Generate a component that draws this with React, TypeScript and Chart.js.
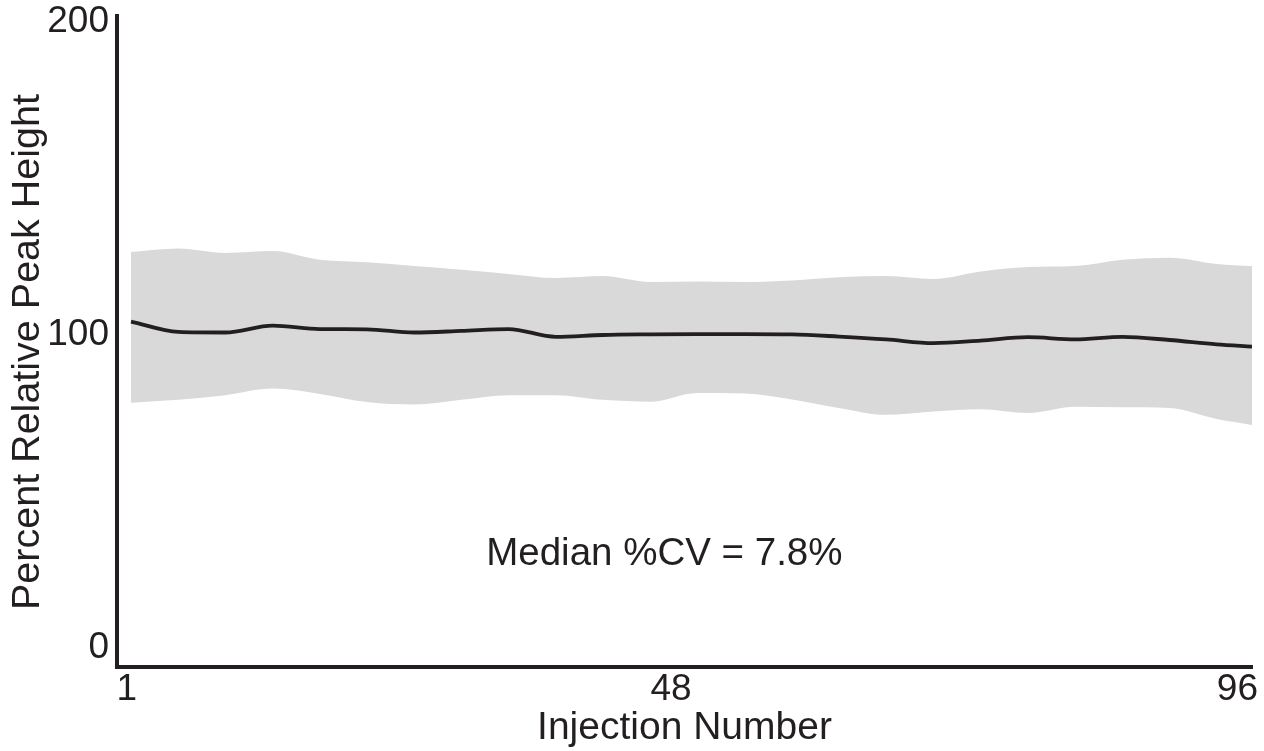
import React, { useEffect, useRef } from "react";
import { Chart, registerables } from "chart.js";

Chart.register(...registerables);

// ---- data ----
const injections = [1, 5, 9, 13, 17, 21, 25, 29, 33, 37, 41, 45, 49, 53, 57, 61, 65, 69, 73, 77, 81, 85, 89, 93, 96];
const meanValues = [104.2, 100.9, 100.7, 102.9, 101.8, 101.7, 100.7, 101.2, 101.8, 99.3, 99.9, 100.1, 100.2, 100.2, 100.1, 99.4, 98.5, 97.3, 98.1, 99.2, 98.5, 99.3, 98.3, 96.9, 96.2];
const upperValues = [126.4, 127.5, 126.1, 126.7, 123.9, 123.1, 121.9, 120.7, 119.4, 118.1, 118.7, 116.8, 117.0, 116.8, 117.3, 118.3, 118.7, 117.8, 120.2, 121.6, 121.9, 123.9, 124.6, 122.6, 121.9];
const lowerValues = [78.3, 79.2, 80.7, 82.8, 81.1, 78.5, 77.7, 79.2, 80.7, 80.7, 79.2, 78.6, 81.4, 81.2, 79.3, 76.6, 74.4, 75.5, 76.2, 75.0, 77.0, 76.8, 76.6, 73.1, 71.2];
const xTicks = [1, 48, 96];
const yTicks = [0, 100, 200];

const X_TITLE = "Injection Number";
const Y_TITLE = "Percent Relative Peak Height";
const ANNOTATION = "Median %CV = 7.8%";
const ANNOT_X = 46.2;
const ANNOT_Y = 29.7;

const FONT = "'Liberation Sans', Arial, sans-serif";
const INK = "#231f20";
const BAND = "#d9d9d9";

const textPlugin = {
  id: "annotText",
  afterDraw(chart: any) {
    const { ctx, scales } = chart;
    ctx.save();
    ctx.fillStyle = INK;
    ctx.textAlign = "center";
    ctx.textBaseline = "middle";
    ctx.font = `38.5px ${FONT}`;
    ctx.fillText(
      ANNOTATION,
      scales.x.getPixelForValue(ANNOT_X),
      scales.y.getPixelForValue(ANNOT_Y)
    );
    ctx.translate(28, 352);
    ctx.rotate(-Math.PI / 2);
    ctx.font = `39.5px ${FONT}`;
    ctx.fillText(Y_TITLE, 0, 0);
    ctx.restore();
  },
};

export default function App() {
  const canvasRef = useRef<HTMLCanvasElement | null>(null);

  useEffect(() => {
    document.body.style.margin = "0";
    const canvas = canvasRef.current;
    if (!canvas) return;
    const toPts = (vals: number[]) => injections.map((x, i) => ({ x, y: vals[i] }));
    const chart = new Chart(canvas, {
      type: "line",
      data: {
        datasets: [
          {
            label: "Mean",
            data: toPts(meanValues),
            borderColor: INK,
            borderWidth: 3.8,
            pointRadius: 0,
            fill: false,
            cubicInterpolationMode: "monotone",
          },
          {
            label: "Upper",
            data: toPts(upperValues),
            borderColor: "rgba(0,0,0,0)",
            borderWidth: 0,
            backgroundColor: BAND,
            pointRadius: 0,
            fill: "+1",
            cubicInterpolationMode: "monotone",
          },
          {
            label: "Lower",
            data: toPts(lowerValues),
            borderColor: "rgba(0,0,0,0)",
            borderWidth: 0,
            backgroundColor: BAND,
            pointRadius: 0,
            fill: false,
            cubicInterpolationMode: "monotone",
          },
        ],
      },
      options: {
        animation: false,
        responsive: false,
        devicePixelRatio: 1,
        layout: { padding: { top: 16, right: 12, left: 0, bottom: 0 } },
        plugins: {
          legend: { display: false },
          tooltip: { enabled: false },
        },
        scales: {
          x: {
            type: "linear",
            min: -0.186,
            max: 96,
            afterBuildTicks: (s: any) => {
              s.ticks = xTicks.map((v) => ({ value: v }));
            },
            afterFit: (s: any) => {
              s.height = 84;
              s.paddingLeft = 0;
              s.paddingRight = 0;
            },
            grid: { display: false, drawTicks: false },
            border: { display: true, width: 4, color: INK },
            ticks: {
              color: INK,
              font: { family: FONT, size: 37, lineHeight: 1 },
              padding: 4,
              align: "end",
              labelOffset: 6,
              maxRotation: 0,
              autoSkip: false,
              callback: (v: any) => String(v),
            },
            title: {
              display: true,
              text: X_TITLE,
              color: INK,
              font: { family: FONT, size: 39, lineHeight: 1 },
              padding: { top: 0, bottom: 3 },
            },
          },
          y: {
            type: "linear",
            min: -6.1,
            max: 201.75,
            afterBuildTicks: (s: any) => {
              s.ticks = yTicks.map((v) => ({ value: v }));
            },
            afterFit: (s: any) => {
              s.width = 117;
              s.paddingTop = 0;
              s.paddingBottom = 0;
            },
            grid: { display: false, drawTicks: false },
            border: { display: true, width: 4, color: INK },
            ticks: {
              color: INK,
              font: { family: FONT, size: 37, lineHeight: 1 },
              padding: 8,
              callback: (v: any) => String(v),
            },
          },
        },
      },
      plugins: [textPlugin],
    } as any);
    return () => chart.destroy();
  }, []);

  return (
    <div style={{ position: "absolute", left: 0, top: 0, width: 1264, height: 751 }}>
      <canvas ref={canvasRef} width={1264} height={751} style={{ display: "block" }} />
    </div>
  );
}
